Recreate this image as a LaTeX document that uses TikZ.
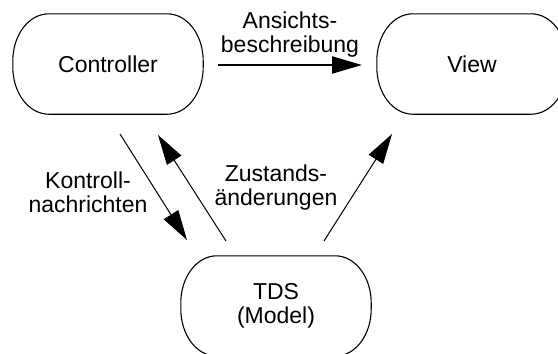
\documentclass[tikz,border=0pt]{standalone}
\usepackage{fontspec}
\setmainfont{Liberation Sans}
\usetikzlibrary{arrows.meta}

% outline of a box with flat top/bottom and elliptic ends
\newcommand\capsuleoutline[1]{%
  \draw[boxline]
    ([xshift=36pt]#1.north west) -- ([xshift=-36pt]#1.north east)
    arc[start angle=90, end angle=0, x radius=36pt, y radius=47pt]
    -- ([yshift=47pt]#1.south east)
    arc[start angle=0, end angle=-90, x radius=36pt, y radius=47pt]
    -- ([xshift=36pt]#1.south west)
    arc[start angle=270, end angle=180, x radius=36pt, y radius=47pt]
    -- ([yshift=-47pt]#1.north west)
    arc[start angle=180, end angle=90, x radius=36pt, y radius=47pt]
    -- cycle;}

\tikzset{
  boxline/.style={line width=1.1pt, line join=round},
  capsule/.style={minimum width=190pt, minimum height=100pt, inner sep=0pt,
    font=\fontsize{23}{24}\selectfont, align=center},
  lbl/.style={inner sep=0pt, anchor=base, align=center,
    font=\fontsize{23}{24}\selectfont},
  flow/.style={line width=1pt, -{Triangle[length=30pt,width=17pt]}},
  flowthick/.style={line width=2pt, -{Triangle[length=30pt,width=17pt]}}
}

\begin{document}
\begin{tikzpicture}[x=1pt, y=-1pt]
  \useasboundingbox (0,0) rectangle (558,354);
  \clip (0,0) rectangle (558,354);

  % the three parts
  \node[capsule] (ctrl) at (108,64) {\raisebox{-1pt}{Controller}};
  \node[capsule] (view) at (472,64) {\raisebox{-1pt}{View}};
  \node[capsule] (tds)  at (276,306) {TDS\\(Model)};
  \capsuleoutline{ctrl}
  \capsuleoutline{view}
  \capsuleoutline{tds}

  % connector end points
  \coordinate (a1) at (218,65);  \coordinate (a2) at (362,65);
  \coordinate (k1) at (120,134); \coordinate (k2) at (187,240);
  \coordinate (z1) at (226,241); \coordinate (z2) at (158,135);
  \coordinate (v1) at (324,241); \coordinate (v2) at (392,134);

  \draw[flowthick] (a1) -- (a2);
  \draw[flow] (k1) -- (k2);
  \draw[flow] (z1) -- (z2);
  \draw[flow] (v1) -- (v2);

  % labels (anchored at the baseline of their last line)
  \node[lbl] (la) at (290,52)  {Ansichts-\\beschreibung};
  \node[lbl] (lk) at (88,212)  {Kontroll-\\nachrichten};
  \node[lbl] (lz) at (276,205) {Zustands-\\änderungen};
\end{tikzpicture}
\end{document}
